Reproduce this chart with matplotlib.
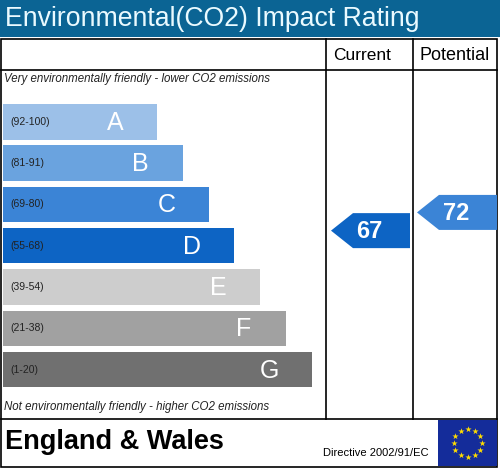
import matplotlib.pyplot as plt
import matplotlib.patches as patches
import numpy as np

# data
bands = ["A", "B", "C", "D", "E", "F", "G"]
band_low = [92, 81, 69, 55, 39, 21, 1]
band_high = [100, 91, 80, 68, 54, 38, 20]
band_colors = ["#9cc0e8", "#6aa3df", "#3b84d6", "#0d64c4", "#cdcdcd", "#a1a1a1", "#707070"]
current = 67
potential = 72

plt.rcParams['font.family'] = ['Liberation Sans', 'DejaVu Sans']

fig = plt.figure(figsize=(5.0, 4.68), dpi=100)
ax = fig.add_axes([0, 0, 1, 1])
ax.set_xlim(0, 500)
ax.set_ylim(468, 0)
ax.axis("off")

# title band
ax.add_patch(patches.Rectangle((0, 0), 500, 37, color="#0b6494", lw=0))
ax.text(5, 19, "Environmental(CO2) Impact Rating", color="#eafaff",
        fontsize=19.2, va="center", ha="left")

# table frame
lw = 1.2
ax.add_patch(patches.Rectangle((1, 39), 496, 428, fill=False, ec="black", lw=lw))
ax.plot([1, 497], [70, 70], color="black", lw=lw)
ax.plot([1, 497], [419, 419], color="black", lw=lw)
ax.plot([326, 326], [39, 419], color="black", lw=lw)
ax.plot([413, 413], [39, 419], color="black", lw=lw)
ax.text(362, 55, "Current", fontsize=12.5, ha="center", va="center")
ax.text(455, 55, "Potential", fontsize=13, ha="center", va="center")

ax.text(4, 79, "Very environmentally friendly - lower CO2 emissions", fontsize=8.3,
        style="italic", va="center", ha="left", color="#222222")
ax.text(4, 407, "Not environmentally friendly - higher CO2 emissions", fontsize=8.3,
        style="italic", va="center", ha="left", color="#222222")

# rating bars
step = 41.3
top0 = 104
bar_h = 35.5
idx = np.arange(len(bands))
centers = top0 + idx * step + bar_h / 2
widths = 154 + idx * 25.8
ax.barh(centers, widths, height=bar_h, left=3, color=band_colors, lw=0)
for i, b in enumerate(bands):
    ax.text(3 + widths[i] - 42, centers[i] + 1, b, color="white", fontsize=18,
            ha="center", va="center")
    ax.text(10, centers[i], "(%d-%d)" % (band_low[i], band_high[i]), fontsize=7.5,
            ha="left", va="center", color="#222222")


def rating_y(r):
    for i in range(len(bands)):
        if band_low[i] <= r <= band_high[i]:
            frac = (r - band_low[i]) / (band_high[i] - band_low[i])
            top = top0 + i * step
            return top + bar_h - frac * bar_h
    return None


def arrow(x0, x1, yc, value, color):
    h = 35
    notch = 22
    pts = [(x0, yc), (x0 + notch, yc - h / 2), (x1, yc - h / 2),
           (x1, yc + h / 2), (x0 + notch, yc + h / 2)]
    ax.add_patch(patches.Polygon(pts, closed=True, color=color, lw=0))
    ax.text((x0 + notch + x1) / 2 - 12, yc + 1, str(value), color="white",
            fontsize=17, fontweight="bold", ha="center", va="center")


arrow(331, 410, rating_y(current), current, band_colors[3])
arrow(417, 497, rating_y(potential), potential, band_colors[2])

# footer
ax.text(5, 442, "England & Wales", fontsize=19.5, fontweight="bold",
        ha="left", va="center")
ax.text(376, 453, "Directive 2002/91/EC", fontsize=8, ha="center", va="center")
ax.add_patch(patches.Rectangle((438, 420), 59, 46, color="#142c9a", lw=0))
ang = np.linspace(0, 2 * np.pi, 12, endpoint=False)
ax.scatter(467.5 + 14 * np.cos(ang), 443 + 14 * np.sin(ang), s=22, marker="*",
           color="#ffdd00", lw=0, zorder=5)

fig.savefig("out.png", dpi=100)
